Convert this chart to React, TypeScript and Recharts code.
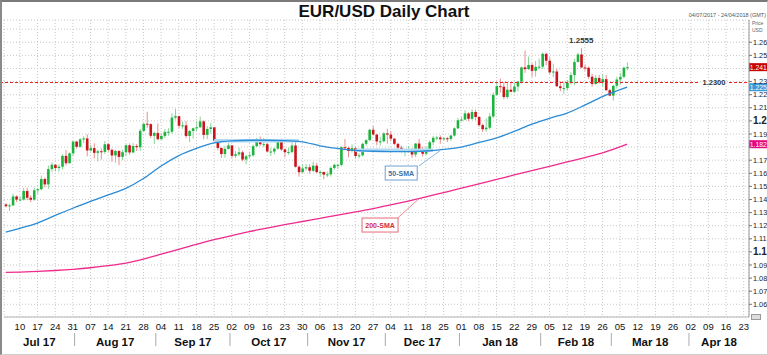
import {
  ComposedChart,
  Bar,
  Line,
  XAxis,
  YAxis,
  CartesianGrid,
  ReferenceLine,
  ReferenceDot,
} from "recharts";

const FONT = "'Liberation Sans', Arial, Helvetica, sans-serif";

// date, open, high, low, close
const CANDLES: [string, number, number, number, number][] = [
  ["2017-07-04", 1.1362, 1.1372, 1.1338, 1.1349],
  ["2017-07-05", 1.1349, 1.1368, 1.1313, 1.1355],
  ["2017-07-06", 1.1355, 1.1445, 1.135, 1.1423],
  ["2017-07-07", 1.1423, 1.1432, 1.138, 1.1399],
  ["2017-07-10", 1.1399, 1.1425, 1.1384, 1.14],
  ["2017-07-11", 1.14, 1.149, 1.1392, 1.1465],
  ["2017-07-12", 1.1465, 1.149, 1.1394, 1.1413],
  ["2017-07-13", 1.1413, 1.1432, 1.1379, 1.1398],
  ["2017-07-14", 1.1398, 1.149, 1.139, 1.147],
  ["2017-07-17", 1.147, 1.1488, 1.1442, 1.1478],
  ["2017-07-18", 1.1478, 1.1583, 1.147, 1.1556],
  ["2017-07-19", 1.1556, 1.1568, 1.1492, 1.1515],
  ["2017-07-20", 1.1515, 1.1658, 1.148, 1.1632],
  ["2017-07-21", 1.1632, 1.1683, 1.1612, 1.1665],
  ["2017-07-24", 1.1665, 1.1669, 1.1614, 1.164],
  ["2017-07-25", 1.164, 1.1668, 1.1612, 1.165],
  ["2017-07-26", 1.165, 1.1745, 1.163, 1.1733],
  ["2017-07-27", 1.1733, 1.1777, 1.166, 1.1677],
  ["2017-07-28", 1.1677, 1.176, 1.1675, 1.1752],
  ["2017-07-31", 1.1752, 1.1845, 1.173, 1.1842],
  ["2017-08-01", 1.1842, 1.1848, 1.1788, 1.1802],
  ["2017-08-02", 1.1802, 1.1868, 1.1797, 1.1859],
  ["2017-08-03", 1.1859, 1.1883, 1.183, 1.1866],
  ["2017-08-04", 1.1866, 1.1898, 1.1729, 1.1774],
  ["2017-08-07", 1.1774, 1.1818, 1.1766, 1.1792],
  ["2017-08-08", 1.1792, 1.1829, 1.1713, 1.1756],
  ["2017-08-09", 1.1756, 1.1779, 1.1688, 1.1768],
  ["2017-08-10", 1.1768, 1.179, 1.1705, 1.1763],
  ["2017-08-11", 1.1763, 1.1846, 1.1748, 1.1822],
  ["2017-08-14", 1.1822, 1.1832, 1.1765, 1.1779],
  ["2017-08-15", 1.1779, 1.179, 1.1688, 1.1736],
  ["2017-08-16", 1.1736, 1.178, 1.1681, 1.177],
  ["2017-08-17", 1.177, 1.1779, 1.1662, 1.1725],
  ["2017-08-18", 1.1725, 1.178, 1.17, 1.1761],
  ["2017-08-21", 1.1761, 1.1822, 1.1734, 1.1814],
  ["2017-08-22", 1.1814, 1.1828, 1.1742, 1.1759],
  ["2017-08-23", 1.1759, 1.1829, 1.1753, 1.1808],
  ["2017-08-24", 1.1808, 1.1823, 1.177, 1.1799],
  ["2017-08-25", 1.1799, 1.194, 1.1771, 1.1924],
  ["2017-08-28", 1.1924, 1.1982, 1.1914, 1.1978],
  ["2017-08-29", 1.1978, 1.207, 1.1946, 1.1975],
  ["2017-08-30", 1.1975, 1.1982, 1.1868, 1.1886],
  ["2017-08-31", 1.1886, 1.1918, 1.1822, 1.1908],
  ["2017-09-01", 1.1908, 1.198, 1.1852, 1.186],
  ["2017-09-04", 1.186, 1.1905, 1.1857, 1.1885],
  ["2017-09-05", 1.1885, 1.1938, 1.1869, 1.1916],
  ["2017-09-06", 1.1916, 1.1944, 1.1886, 1.1917],
  ["2017-09-07", 1.1917, 1.2058, 1.1903, 1.2025],
  ["2017-09-08", 1.2025, 1.2092, 1.201, 1.2036],
  ["2017-09-11", 1.2036, 1.204, 1.1944, 1.1963],
  ["2017-09-12", 1.1963, 1.1995, 1.1939, 1.1966],
  ["2017-09-13", 1.1966, 1.1999, 1.1868, 1.1885],
  ["2017-09-14", 1.1885, 1.193, 1.1838, 1.1923],
  ["2017-09-15", 1.1923, 1.1949, 1.1865, 1.1944],
  ["2017-09-18", 1.1944, 1.1997, 1.1922, 1.1951],
  ["2017-09-19", 1.1951, 1.2033, 1.1948, 1.1996],
  ["2017-09-20", 1.1996, 1.2005, 1.186, 1.1893],
  ["2017-09-21", 1.1893, 1.196, 1.1862, 1.1938],
  ["2017-09-22", 1.1938, 1.1986, 1.1903, 1.1951],
  ["2017-09-25", 1.1951, 1.1952, 1.1836, 1.1849],
  ["2017-09-26", 1.1849, 1.186, 1.1775, 1.1793],
  ["2017-09-27", 1.1793, 1.1798, 1.1717, 1.1747],
  ["2017-09-28", 1.1747, 1.1809, 1.1719, 1.1786],
  ["2017-09-29", 1.1786, 1.1831, 1.178, 1.1813],
  ["2017-10-02", 1.1813, 1.1815, 1.1716, 1.1733],
  ["2017-10-03", 1.1733, 1.177, 1.1716, 1.1745],
  ["2017-10-04", 1.1745, 1.1796, 1.1731, 1.176],
  ["2017-10-05", 1.176, 1.1772, 1.1692, 1.1705],
  ["2017-10-06", 1.1705, 1.174, 1.1669, 1.173],
  ["2017-10-09", 1.173, 1.1765, 1.1714, 1.1737],
  ["2017-10-10", 1.1737, 1.182, 1.1727, 1.1807],
  ["2017-10-11", 1.1807, 1.187, 1.1798, 1.1862],
  ["2017-10-12", 1.1862, 1.188, 1.181, 1.1822],
  ["2017-10-13", 1.1822, 1.1871, 1.18, 1.1822],
  ["2017-10-16", 1.1822, 1.1835, 1.1764, 1.1766],
  ["2017-10-17", 1.1766, 1.1795, 1.173, 1.1766],
  ["2017-10-18", 1.1766, 1.1795, 1.1745, 1.1788],
  ["2017-10-19", 1.1788, 1.1861, 1.1781, 1.1854],
  ["2017-10-20", 1.1854, 1.1864, 1.177, 1.1782],
  ["2017-10-23", 1.1782, 1.179, 1.1723, 1.1761],
  ["2017-10-24", 1.1761, 1.1797, 1.1741, 1.1763],
  ["2017-10-25", 1.1763, 1.1834, 1.1751, 1.1812],
  ["2017-10-26", 1.1812, 1.1838, 1.1643, 1.165],
  ["2017-10-27", 1.165, 1.166, 1.1574, 1.1608],
  ["2017-10-30", 1.1608, 1.1668, 1.1605, 1.1637],
  ["2017-10-31", 1.1637, 1.167, 1.1622, 1.1646],
  ["2017-11-01", 1.1646, 1.1669, 1.1599, 1.1619],
  ["2017-11-02", 1.1619, 1.1688, 1.1611, 1.1658],
  ["2017-11-03", 1.1658, 1.168, 1.1599, 1.1609],
  ["2017-11-06", 1.1609, 1.162, 1.1576, 1.161],
  ["2017-11-07", 1.161, 1.1612, 1.1554, 1.159],
  ["2017-11-08", 1.159, 1.1612, 1.157, 1.1592],
  ["2017-11-09", 1.1592, 1.1653, 1.1575, 1.1641],
  ["2017-11-10", 1.1641, 1.1673, 1.1626, 1.1664],
  ["2017-11-13", 1.1664, 1.1672, 1.1632, 1.1664],
  ["2017-11-14", 1.1664, 1.1806, 1.1653, 1.1799],
  ["2017-11-15", 1.1799, 1.1862, 1.1775, 1.1793],
  ["2017-11-16", 1.1793, 1.1804, 1.1721, 1.177],
  ["2017-11-17", 1.177, 1.1821, 1.1758, 1.1792],
  ["2017-11-20", 1.1792, 1.1802, 1.1715, 1.1732],
  ["2017-11-21", 1.1732, 1.1753, 1.1714, 1.1737],
  ["2017-11-22", 1.1737, 1.1833, 1.1728, 1.1825],
  ["2017-11-23", 1.1825, 1.186, 1.181, 1.1853],
  ["2017-11-24", 1.1853, 1.194, 1.1844, 1.1932],
  ["2017-11-27", 1.1932, 1.1961, 1.1887, 1.1896],
  ["2017-11-28", 1.1896, 1.19, 1.1815, 1.1843],
  ["2017-11-29", 1.1843, 1.1879, 1.1812, 1.1844],
  ["2017-11-30", 1.1844, 1.1913, 1.1837, 1.1904],
  ["2017-12-01", 1.1904, 1.194, 1.1826, 1.1895],
  ["2017-12-04", 1.1895, 1.192, 1.1844, 1.1864],
  ["2017-12-05", 1.1864, 1.187, 1.1815, 1.1825],
  ["2017-12-06", 1.1825, 1.183, 1.1775, 1.1795],
  ["2017-12-07", 1.1795, 1.181, 1.1758, 1.1771],
  ["2017-12-08", 1.1771, 1.178, 1.1729, 1.1773],
  ["2017-12-11", 1.1773, 1.1808, 1.176, 1.1778],
  ["2017-12-12", 1.1778, 1.179, 1.1718, 1.1743],
  ["2017-12-13", 1.1743, 1.183, 1.1725, 1.1827],
  ["2017-12-14", 1.1827, 1.1863, 1.1772, 1.1776],
  ["2017-12-15", 1.1776, 1.1803, 1.1729, 1.1749],
  ["2017-12-18", 1.1749, 1.1804, 1.174, 1.1783],
  ["2017-12-19", 1.1783, 1.185, 1.1765, 1.1837],
  ["2017-12-20", 1.1837, 1.1885, 1.1815, 1.1871],
  ["2017-12-21", 1.1871, 1.1886, 1.1853, 1.1873],
  ["2017-12-22", 1.1873, 1.189, 1.1825, 1.186],
  ["2017-12-25", 1.186, 1.1876, 1.1852, 1.1867],
  ["2017-12-26", 1.1867, 1.1878, 1.1838, 1.1862],
  ["2017-12-27", 1.1862, 1.1895, 1.1848, 1.1888],
  ["2017-12-28", 1.1888, 1.195, 1.188, 1.1943],
  ["2017-12-29", 1.1943, 1.2023, 1.1936, 1.2005],
  ["2018-01-01", 1.2005, 1.203, 1.1996, 1.201],
  ["2018-01-02", 1.201, 1.2081, 1.2005, 1.2057],
  ["2018-01-03", 1.2057, 1.2066, 1.2, 1.2016],
  ["2018-01-04", 1.2016, 1.2088, 1.2006, 1.2068],
  ["2018-01-05", 1.2068, 1.2085, 1.2004, 1.203],
  ["2018-01-08", 1.203, 1.2034, 1.1955, 1.1968],
  ["2018-01-09", 1.1968, 1.1978, 1.1915, 1.1936],
  ["2018-01-10", 1.1936, 1.2018, 1.1916, 1.1948],
  ["2018-01-11", 1.1948, 1.2059, 1.1935, 1.2034],
  ["2018-01-12", 1.2034, 1.2218, 1.2021, 1.2199],
  ["2018-01-15", 1.2199, 1.2296, 1.219, 1.2265],
  ["2018-01-16", 1.2265, 1.2323, 1.2215, 1.2261],
  ["2018-01-17", 1.2261, 1.2297, 1.2164, 1.2182],
  ["2018-01-18", 1.2182, 1.2288, 1.2166, 1.2238],
  ["2018-01-19", 1.2238, 1.2296, 1.2219, 1.2222],
  ["2018-01-22", 1.2222, 1.229, 1.2214, 1.2262],
  ["2018-01-23", 1.2262, 1.2306, 1.2225, 1.23],
  ["2018-01-24", 1.23, 1.2414, 1.2286, 1.2408],
  ["2018-01-25", 1.2408, 1.2537, 1.2366, 1.2395],
  ["2018-01-26", 1.2395, 1.2492, 1.2389, 1.2427],
  ["2018-01-29", 1.2427, 1.244, 1.2336, 1.2382],
  ["2018-01-30", 1.2382, 1.2457, 1.2338, 1.2412],
  ["2018-01-31", 1.2412, 1.2476, 1.2392, 1.2414],
  ["2018-02-01", 1.2414, 1.2522, 1.2395, 1.2512],
  ["2018-02-02", 1.2512, 1.252, 1.2425, 1.2459],
  ["2018-02-05", 1.2459, 1.2485, 1.2356, 1.237],
  ["2018-02-06", 1.237, 1.2436, 1.2334, 1.2377],
  ["2018-02-07", 1.2377, 1.24, 1.226, 1.2264],
  ["2018-02-08", 1.2264, 1.2303, 1.2226, 1.225],
  ["2018-02-09", 1.225, 1.2301, 1.2206, 1.225],
  ["2018-02-12", 1.225, 1.2312, 1.223, 1.2291],
  ["2018-02-13", 1.2291, 1.2371, 1.2276, 1.235],
  ["2018-02-14", 1.235, 1.2474, 1.2272, 1.2449],
  ["2018-02-15", 1.2449, 1.252, 1.2448, 1.2507],
  ["2018-02-16", 1.2507, 1.2555, 1.2403, 1.2408],
  ["2018-02-19", 1.2408, 1.243, 1.2382, 1.2405],
  ["2018-02-20", 1.2405, 1.2414, 1.232, 1.2337],
  ["2018-02-21", 1.2337, 1.236, 1.226, 1.2282],
  ["2018-02-22", 1.2282, 1.235, 1.2275, 1.2327],
  ["2018-02-23", 1.2327, 1.235, 1.2284, 1.2294],
  ["2018-02-26", 1.2294, 1.2354, 1.226, 1.2318],
  ["2018-02-27", 1.2318, 1.2349, 1.2228, 1.2234],
  ["2018-02-28", 1.2234, 1.2245, 1.2188, 1.2193],
  ["2018-03-01", 1.2193, 1.2273, 1.2154, 1.2268],
  ["2018-03-02", 1.2268, 1.2337, 1.2246, 1.2316],
  ["2018-03-05", 1.2316, 1.2366, 1.2275, 1.2336],
  ["2018-03-06", 1.2336, 1.2417, 1.2325, 1.2405],
  ["2018-03-07", 1.2405, 1.2446, 1.2386, 1.241],
];

// moving averages, weekly
const SMA50: [string, number][] = [
  ["2017-07-04", 1.115], ["2017-07-10", 1.118], ["2017-07-17", 1.122],
  ["2017-07-24", 1.1278], ["2017-07-31", 1.1333], ["2017-08-07", 1.1385],
  ["2017-08-14", 1.1435], ["2017-08-21", 1.1485], ["2017-08-28", 1.156],
  ["2017-09-04", 1.1655], ["2017-09-11", 1.1735], ["2017-09-18", 1.179],
  ["2017-09-25", 1.1832], ["2017-10-02", 1.1848], ["2017-10-09", 1.1852],
  ["2017-10-16", 1.1852], ["2017-10-23", 1.185], ["2017-10-30", 1.184],
  ["2017-11-06", 1.181], ["2017-11-13", 1.179], ["2017-11-20", 1.1775],
  ["2017-11-27", 1.1768], ["2017-12-04", 1.1765], ["2017-12-11", 1.1765],
  ["2017-12-18", 1.177], ["2017-12-25", 1.1782], ["2018-01-01", 1.18],
  ["2018-01-08", 1.1835], ["2018-01-15", 1.187], ["2018-01-22", 1.192],
  ["2018-01-29", 1.1975], ["2018-02-05", 1.202], ["2018-02-12", 1.206],
  ["2018-02-19", 1.212], ["2018-02-26", 1.2185], ["2018-03-07", 1.2257],
];

const SMA200: [string, number][] = [
  ["2017-07-04", 1.0843], ["2017-07-10", 1.0846], ["2017-07-17", 1.0851],
  ["2017-07-24", 1.0858], ["2017-07-31", 1.0867], ["2017-08-07", 1.0879],
  ["2017-08-14", 1.0895], ["2017-08-21", 1.0915], ["2017-08-28", 1.0945],
  ["2017-09-04", 1.0982], ["2017-09-11", 1.102], ["2017-09-18", 1.1058],
  ["2017-09-25", 1.1093], ["2017-10-02", 1.1125], ["2017-10-09", 1.1155],
  ["2017-10-16", 1.1182], ["2017-10-23", 1.1208], ["2017-10-30", 1.1232],
  ["2017-11-06", 1.1256], ["2017-11-13", 1.128], ["2017-11-20", 1.1305],
  ["2017-11-27", 1.133], ["2017-12-04", 1.1358], ["2017-12-11", 1.1388],
  ["2017-12-18", 1.142], ["2017-12-25", 1.1453], ["2018-01-01", 1.1486],
  ["2018-01-08", 1.152], ["2018-01-15", 1.1553], ["2018-01-22", 1.1587],
  ["2018-01-29", 1.162], ["2018-02-05", 1.1653], ["2018-02-12", 1.1687],
  ["2018-02-19", 1.172], ["2018-02-26", 1.1755], ["2018-03-07", 1.1822],
];

const PRICE_TICKS = [
  1.06, 1.07, 1.08, 1.09, 1.1, 1.11, 1.12, 1.13, 1.14, 1.15, 1.16,
  1.17, 1.18, 1.19, 1.2, 1.21, 1.22, 1.23, 1.24, 1.25, 1.26, 1.27,
];
const HIDDEN_PRICE_LABELS = [1.18, 1.24, 1.27];

const MONTHS: [string, string][] = [
  ["2017-07", "Jul 17"], ["2017-08", "Aug 17"], ["2017-09", "Sep 17"],
  ["2017-10", "Oct 17"], ["2017-11", "Nov 17"], ["2017-12", "Dec 17"],
  ["2018-01", "Jan 18"], ["2018-02", "Feb 18"], ["2018-03", "Mar 18"],
  ["2018-04", "Apr 18"],
];

const LEVEL = 1.23;
const PEAK: [string, number] = ["2018-02-16", 1.2555];
const FLAT_50: [string, string, number][] = [
  ["2017-09-25", "2017-10-27", 1.1848],
  ["2017-11-20", "2017-12-20", 1.1775],
];

const START = "2017-07-04";
const END = "2018-04-24";

function weekdays(from: string, to: string) {
  const out: string[] = [];
  const d = new Date(from + "T00:00:00Z");
  const end = new Date(to + "T00:00:00Z");
  while (d <= end) {
    const w = d.getUTCDay();
    if (w !== 0 && w !== 6) out.push(d.toISOString().slice(0, 10));
    d.setUTCDate(d.getUTCDate() + 1);
  }
  return out;
}

const DAYS = weekdays(START, END);
const candleBy = new Map(CANDLES.map((c) => [c[0], c]));
const sma50By = new Map(SMA50);
const sma200By = new Map(SMA200);

const data = DAYS.map((date) => {
  const c = candleBy.get(date);
  return {
    date,
    open: c ? c[1] : undefined,
    high: c ? c[2] : undefined,
    low: c ? c[3] : undefined,
    close: c ? c[4] : undefined,
    range: c ? [c[3], c[2]] : undefined,
    sma50: sma50By.get(date),
    sma200: sma200By.get(date),
  };
});

const MONDAYS = DAYS.filter((d) => new Date(d + "T00:00:00Z").getUTCDay() === 1);
const MONTH_STARTS = MONTHS.map(([m]) => DAYS.find((d) => d.startsWith(m)) as string);
const monthCount = (m: string) => DAYS.filter((d) => d.startsWith(m)).length;

const W = 768;
const H = 355;
const M = { top: 20, left: 4, right: 0, bottom: 0 };
const Y_AXIS_W = 19;
const BAND = (W - M.left - Y_AXIS_W) / DAYS.length;

const last = CANDLES[CANDLES.length - 1];
const trunc3 = (v: number) => (Math.floor(v * 1000 + 1e-6) / 1000).toFixed(3);

function Candle(props: any) {
  const { x, y, width, height, payload } = props;
  if (payload.open == null || !isFinite(y) || !isFinite(height)) return <g />;
  const top = Math.min(y, y + height);
  const h = Math.abs(height);
  const { open, high, low, close } = payload;
  const py = (p: number) => top + ((high - p) / (high - low)) * h;
  const cx = x + width / 2;
  const up = close >= open;
  const bTop = py(Math.max(open, close));
  const bH = Math.max(1, py(Math.min(open, close)) - bTop);
  return (
    <g>
      <line x1={cx} x2={cx} y1={top} y2={top + h} stroke={up ? "#86d598" : "#f08c8c"} strokeWidth={1} />
      <rect x={cx - 1.3} y={bTop} width={2.6} height={bH} fill={up ? "#1db33f" : "#c8141c"} />
    </g>
  );
}

function DayTick({ x, y, payload }: any) {
  return (
    <text x={x} y={y + 13} textAnchor="middle" fontSize={9.5} fill="#111" fontFamily={FONT}>
      {payload.value.slice(8)}
    </text>
  );
}

function MonthTick({ x, y, payload }: any) {
  const m = payload.value.slice(0, 7);
  const entry = MONTHS.find((e) => e[0] === m);
  const start = x - BAND / 2;
  const mid = start + (monthCount(m) * BAND) / 2;
  return (
    <g>
      {m !== MONTHS[0][0] && (
        <line x1={start} x2={start} y1={y + 2} y2={y + 15} stroke="#aaa" strokeWidth={1} />
      )}
      <text x={mid} y={y + 15} textAnchor="middle" fontSize={11.5} fontWeight={700} fill="#111" fontFamily={FONT}>
        {entry ? entry[1] : ""}
      </text>
    </g>
  );
}

function PriceTick({ x, y, payload }: any) {
  const v: number = payload.value;
  const hidden = HIDDEN_PRICE_LABELS.some((h) => Math.abs(h - v) < 1e-6);
  const major = Math.abs(v * 10 - Math.round(v * 10)) < 1e-6;
  if (v > 1.265) return <g />;
  return (
    <g>
      <line x1={x} x2={x + 3} y1={y} y2={y} stroke="#777" />
      {!hidden && (
        <text
          x={x + 4}
          y={y + (major ? 3.5 : 2.6)}
          fontSize={major ? 10 : 7.3}
          fontWeight={major ? 700 : 400}
          fill="#222"
          fontFamily={FONT}
        >
          {String(Number(v.toFixed(2)))}
        </text>
      )}
    </g>
  );
}

const priceTag = (color: string, text: string) => (props: any) => {
  const vb = props.viewBox;
  if (!vb) return null;
  const x = vb.x + vb.width;
  const y = vb.y;
  return (
    <g>
      <rect x={x} y={y - 4} width={W - x} height={8} fill={color} />
      <text x={x + 0.8} y={y + 2.6} fontSize={6.8} fill="#fff" fontFamily={FONT}>
        {text}
      </text>
    </g>
  );
};

// dashed red level with its value sitting in a gap near the right edge
const levelLabel = (props: any) => {
  const vb = props.viewBox;
  if (!vb) return null;
  const right = vb.x + vb.width;
  const cx = right - 35;
  const y = Math.round(vb.y) + 0.5;
  return (
    <g>
      <line x1={0} x2={cx - 16} y1={y} y2={y} stroke="#e8231f" strokeWidth={1} strokeDasharray="3 2" />
      <line x1={cx + 15} x2={right} y1={y} y2={y} stroke="#e8231f" strokeWidth={1} strokeDasharray="3 2" />
      <text x={cx} y={y + 2.5} textAnchor="middle" fontSize={7.5} fontWeight={700} fill="#333" fontFamily={FONT}>
        {LEVEL.toFixed(4)}
      </text>
    </g>
  );
};

const boxShape = (text: string, color: string, textColor: string, w: number) => (p: any) => (
  <g>
    <rect x={p.cx - w / 2} y={p.cy - 7} width={w} height={14} fill="#fff" stroke={color} strokeWidth={1} />
    <text x={p.cx} y={p.cy + 2.5} textAnchor="middle" fontSize={7} fontWeight={700} fill={textColor} fontFamily={FONT}>
      {text}
    </text>
  </g>
);

export default function App() {
  return (
    <div style={{ position: "absolute", left: 0, top: 0, width: W, height: H, background: "#fff", fontFamily: FONT }}>
      <ComposedChart width={W} height={H} data={data} margin={M} barCategoryGap={0}>
        <CartesianGrid xAxisId="day" stroke="#c8c8c8" strokeDasharray="1 2" />
        <XAxis
          xAxisId="day"
          dataKey="date"
          ticks={MONDAYS}
          interval={0}
          height={14}
          tickSize={0}
          tickMargin={0}
          tickLine={false}
          axisLine={{ stroke: "#b5b5b5" }}
          tick={<DayTick />}
        />
        <XAxis
          xAxisId="month"
          dataKey="date"
          ticks={MONTH_STARTS}
          interval={0}
          height={24}
          tickSize={0}
          tickMargin={0}
          tickLine={false}
          axisLine={false}
          tick={<MonthTick />}
        />
        <YAxis
          orientation="right"
          width={Y_AXIS_W}
          domain={[1.0503, 1.277]}
          allowDataOverflow
          ticks={PRICE_TICKS}
          interval={0}
          tickSize={0}
          tickMargin={0}
          tickLine={false}
          axisLine={{ stroke: "#999" }}
          tick={<PriceTick />}
        />
        {FLAT_50.map(([a, b, v]) => (
          <ReferenceLine
            key={a}
            xAxisId="day"
            segment={[{ x: a, y: v }, { x: b, y: v }]}
            stroke="#b3d9f3"
            strokeWidth={3.5}
          />
        ))}
        <Line xAxisId="day" type="monotone" dataKey="sma200" stroke="#ef2a8d" strokeWidth={1.3} dot={false} connectNulls isAnimationActive={false} />
        <Line xAxisId="day" type="monotone" dataKey="sma50" stroke="#2a8bd6" strokeWidth={1.3} dot={false} connectNulls isAnimationActive={false} />
        <ReferenceLine xAxisId="day" y={LEVEL} stroke="none" label={levelLabel} />
        <Bar xAxisId="day" dataKey="range" shape={<Candle />} isAnimationActive={false} />
        <ReferenceLine
          xAxisId="day"
          segment={[{ x: "2017-12-14", y: 1.1656 }, { x: "2017-12-22", y: 1.1772 }]}
          stroke="#8ab9e2"
        />
        <ReferenceLine
          xAxisId="day"
          segment={[{ x: "2017-12-06", y: 1.1259 }, { x: "2017-12-14", y: 1.1405 }]}
          stroke="#f08a98"
        />
        <ReferenceDot xAxisId="day" x="2017-12-07" y={1.1602} r={0} shape={boxShape("50-SMA", "#6f9fd3", "#3b6fa8", 32)} />
        <ReferenceDot xAxisId="day" x="2017-11-29" y={1.1205} r={0} shape={boxShape("200-SMA", "#e66a78", "#d2293c", 36)} />
        <ReferenceDot
          xAxisId="day"
          x={PEAK[0]}
          y={PEAK[1]}
          r={0}
          label={{ value: PEAK[1].toFixed(4), position: "top", fontSize: 8, fontWeight: 700, fill: "#333", fontFamily: FONT }}
        />
        <ReferenceLine xAxisId="day" y={SMA200[SMA200.length - 1][1]} stroke="none" label={priceTag("#e4097f", trunc3(SMA200[SMA200.length - 1][1]))} />
        <ReferenceLine xAxisId="day" y={SMA50[SMA50.length - 1][1]} stroke="none" label={priceTag("#3798d9", trunc3(SMA50[SMA50.length - 1][1]))} />
        <ReferenceLine xAxisId="day" y={last[4]} stroke="none" label={priceTag("#c80000", trunc3(last[4]))} />
      </ComposedChart>

      <div style={{ position: "absolute", left: 0, top: 2, width: W, textAlign: "center", fontSize: 17, fontWeight: 700, color: "#111" }}>
        EUR/USD Daily Chart
      </div>
      <div style={{ position: "absolute", right: 2, top: 12, fontSize: 5.5, color: "#555", whiteSpace: "nowrap" }}>
        04/07/2017 - 24/04/2018 (GMT)
      </div>
      <div style={{ position: "absolute", left: 752, top: 20, fontSize: 5, lineHeight: "6.5px", color: "#666" }}>
        Price
        <br />
        USD
      </div>
      <div style={{ position: "absolute", left: 751, top: 314, width: 8, height: 4, border: "1px solid #999", background: "#ddd" }} />
      <div
        style={{
          position: "absolute",
          left: 0,
          top: 0,
          width: W,
          height: H,
          boxSizing: "border-box",
          borderTop: "2px solid #7a7a7a",
          borderLeft: "2px solid #8a8a8a",
          borderRight: "1px solid #cfcfcf",
          borderBottom: "1px solid #cfcfcf",
          pointerEvents: "none",
        }}
      />
    </div>
  );
}
